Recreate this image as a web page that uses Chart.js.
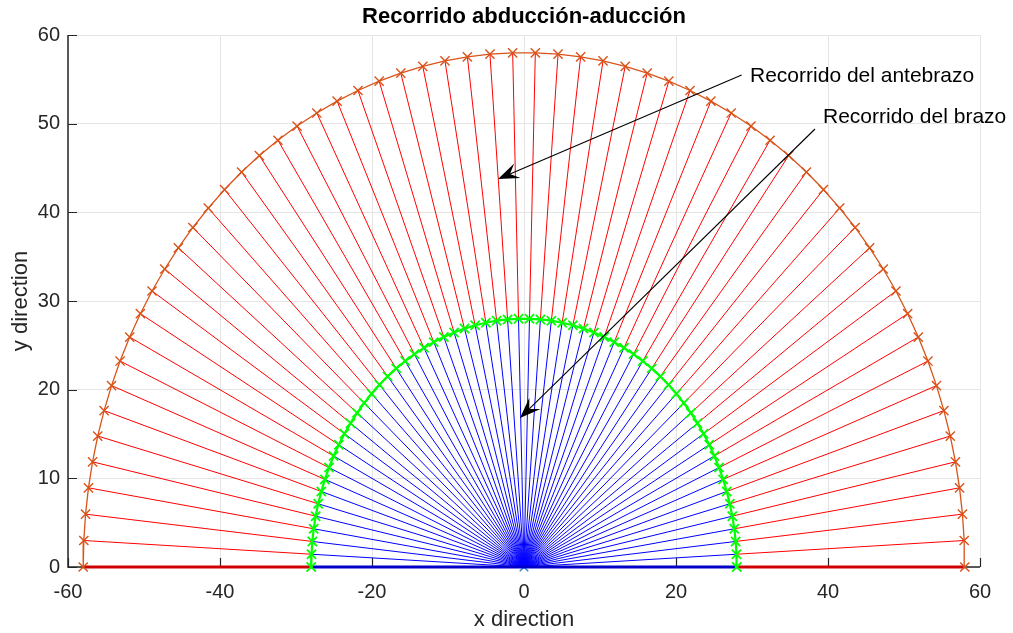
<!DOCTYPE html>
<html>
<head>
<meta charset="utf-8">
<title>Recorrido abducción-aducción</title>
<script src="https://cdn.jsdelivr.net/npm/chart.js@4.4.1/dist/chart.umd.min.js"></script>
<style>
  html, body { margin: 0; padding: 0; background: #ffffff; }
  #wrap { width: 1013px; height: 633px; }
</style>
</head>
<body>
<div id="wrap"><canvas id="c" width="1013" height="633"></canvas></div>
<script>
// Arm end points (elbow), one per abduction step
const armX = [28.00, 27.96, 27.85, 27.67, 27.41, 27.08, 26.67, 26.20, 25.66, 25.05, 24.37, 23.63, 22.82, 21.96, 21.03, 20.05,
  19.02, 17.94, 16.81, 15.63, 14.42, 13.16, 11.87, 10.55, 9.20, 7.83, 6.43, 5.02, 3.60, 2.16, 0.72,
  -0.72, -2.16, -3.60, -5.02, -6.43, -7.83, -9.20, -10.55, -11.87, -13.16, -14.42, -15.63, -16.81, -17.94, -19.02,
  -20.05, -21.03, -21.96, -22.82, -23.63, -24.37, -25.05, -25.66, -26.20, -26.67, -27.08, -27.41, -27.67, -27.85, -27.96, -28.00];
const armY = [0.00, 1.44, 2.88, 4.31, 5.73, 7.13, 8.52, 9.88, 11.21, 12.52, 13.79, 15.03, 16.22, 17.38, 18.49, 19.54,
  20.55, 21.50, 22.40, 23.23, 24.01, 24.72, 25.36, 25.94, 26.45, 26.89, 27.26, 27.55, 27.78, 27.92, 27.99,
  27.99, 27.92, 27.78, 27.55, 27.26, 26.89, 26.45, 25.94, 25.36, 24.72, 24.01, 23.23, 22.40, 21.50, 20.55,
  19.54, 18.49, 17.38, 16.22, 15.03, 13.79, 12.52, 11.21, 9.88, 8.52, 7.13, 5.73, 4.31, 2.88, 1.44, 0.00];

// Forearm end points (hand)
const foreX = [58.00, 57.92, 57.69, 57.31, 56.77, 56.09, 55.25, 54.27, 53.15, 51.88, 50.48, 48.94, 47.27, 45.48, 43.57, 41.54,
  39.40, 37.16, 34.82, 32.38, 29.86, 27.26, 24.59, 21.85, 19.06, 16.21, 13.32, 10.40, 7.45, 4.48, 1.49,
  -1.49, -4.48, -7.45, -10.40, -13.32, -16.21, -19.06, -21.85, -24.59, -27.26, -29.86, -32.38, -34.82, -37.16, -39.40,
  -41.54, -43.57, -45.48, -47.27, -48.94, -50.48, -51.88, -53.15, -54.27, -55.25, -56.09, -56.77, -57.31, -57.69, -57.92, -58.00];
const foreY = [0.00, 2.99, 5.96, 8.93, 11.86, 14.77, 17.64, 20.46, 23.23, 25.93, 28.57, 31.13, 33.61, 36.00, 38.29, 40.48,
  42.57, 44.54, 46.40, 48.13, 49.73, 51.20, 52.54, 53.74, 54.79, 55.70, 56.46, 57.08, 57.54, 57.85, 57.98,
  57.98, 57.85, 57.54, 57.08, 56.46, 55.70, 54.79, 53.74, 52.54, 51.20, 49.73, 48.13, 46.40, 44.54, 42.57,
  40.48, 38.29, 36.00, 33.61, 31.13, 28.57, 25.93, 23.23, 20.46, 17.64, 14.77, 11.86, 8.93, 5.96, 2.99, 0.00];

// Shoulder position
const originX = [0];
const originY = [0];

// Axis ticks
const xTicks = [-60, -40, -20, 0, 20, 40, 60];
const yTicks = [0, 10, 20, 30, 40, 50, 60];

// Text
const chartTitle = 'Recorrido abducción-aducción';
const xLabel = 'x direction';
const yLabel = 'y direction';
const notes = [
  { text: 'Recorrido del antebrazo', tx: 29.74, ty: 55.38, x0: 28.64, y0: 55.49, x1: -3.42, y1: 43.76 },
  { text: 'Recorrido del brazo',     tx: 39.34, ty: 50.75, x0: 38.29, y0: 49.40, x1: -0.53, y1: 16.80 }
];

const FONT = '"Liberation Sans", Arial, Helvetica, sans-serif';
const AXIS_COLOR = '#262626';

// Segment lists: shoulder->elbow and elbow->hand, separated by gaps
const armSegs = [];
const foreSegs = [];
for (let k = 0; k < armX.length; k++) {
  armSegs.push({ x: originX[0], y: originY[0] }, { x: armX[k], y: armY[k] }, { x: armX[k], y: null });
  foreSegs.push({ x: armX[k], y: armY[k] }, { x: foreX[k], y: foreY[k] }, { x: foreX[k], y: null });
}
const last = armX.length - 1;
const baseRed = [
  { x: foreX[last], y: foreY[last] }, { x: armX[last], y: armY[last] }, { x: armX[last], y: null },
  { x: armX[0], y: armY[0] }, { x: foreX[0], y: foreY[0] }
];
const baseBlue = [{ x: armX[last], y: armY[last] }, { x: armX[0], y: armY[0] }];
const foreCurve = foreX.map((v, i) => ({ x: v, y: foreY[i] }));
const armCurve = armX.map((v, i) => ({ x: v, y: armY[i] }));

const frame = {
  id: 'frame',
  beforeDatasetsDraw(chart) {
    const { ctx, chartArea: a, scales } = chart;
    ctx.save();
    ctx.strokeStyle = AXIS_COLOR;
    ctx.lineWidth = 1.5;
    ctx.beginPath();
    ctx.moveTo(a.left, a.top);
    ctx.lineTo(a.left, a.bottom);
    ctx.lineTo(a.right, a.bottom);
    ctx.stroke();
    ctx.lineWidth = 1.2;
    ctx.beginPath();
    const tl = 9;
    xTicks.forEach(v => {
      const px = Math.round(scales.x.getPixelForValue(v)) + 0.5;
      ctx.moveTo(px, a.bottom);
      ctx.lineTo(px, a.bottom - tl);
    });
    yTicks.forEach(v => {
      const py = Math.round(scales.y.getPixelForValue(v)) + 0.5;
      ctx.moveTo(a.left, py);
      ctx.lineTo(a.left + tl, py);
    });
    ctx.stroke();
    ctx.restore();
  },
  afterDraw(chart) {
    const { ctx, chartArea: a, scales } = chart;
    ctx.save();
    // title
    ctx.fillStyle = '#000000';
    ctx.font = 'bold 22px ' + FONT;
    ctx.textAlign = 'center';
    ctx.textBaseline = 'middle';
    ctx.fillText(chartTitle, (a.left + a.right) / 2, 17);
    // axis titles
    ctx.fillStyle = AXIS_COLOR;
    ctx.font = '22px ' + FONT;
    ctx.fillText(xLabel, (a.left + a.right) / 2, 620);
    ctx.save();
    ctx.translate(21, (a.top + a.bottom) / 2);
    ctx.rotate(-Math.PI / 2);
    ctx.fillText(yLabel, 0, 0);
    ctx.restore();
    // text arrows
    notes.forEach(n => {
      const x0 = scales.x.getPixelForValue(n.x0), y0 = scales.y.getPixelForValue(n.y0);
      const x1 = scales.x.getPixelForValue(n.x1), y1 = scales.y.getPixelForValue(n.y1);
      const ang = Math.atan2(y1 - y0, x1 - x0);
      const L = 21, W = 8, notch = 13;
      ctx.strokeStyle = '#000000';
      ctx.lineWidth = 1.1;
      ctx.beginPath();
      ctx.moveTo(x0, y0);
      ctx.lineTo(x1 - Math.cos(ang) * notch, y1 - Math.sin(ang) * notch);
      ctx.stroke();
      ctx.save();
      ctx.translate(x1, y1);
      ctx.rotate(ang);
      ctx.fillStyle = '#000000';
      ctx.beginPath();
      ctx.moveTo(0, 0);
      ctx.lineTo(-L, -W);
      ctx.lineTo(-notch, 0);
      ctx.lineTo(-L, W);
      ctx.closePath();
      ctx.fill();
      ctx.restore();
      ctx.fillStyle = '#000000';
      ctx.font = '21px ' + FONT;
      ctx.textAlign = 'left';
      ctx.textBaseline = 'middle';
      ctx.fillText(n.text, scales.x.getPixelForValue(n.tx), scales.y.getPixelForValue(n.ty));
    });
    ctx.restore();
  }
};

new Chart(document.getElementById('c'), {
  type: 'scatter',
  data: {
    datasets: [
      { label: 'antebrazo', data: foreCurve, showLine: true, borderColor: '#D95319', borderWidth: 1.3,
        pointStyle: 'crossRot', pointRadius: 6.5, pointBorderColor: '#D95319', pointBorderWidth: 1.4,
        order: 0, clip: false },
      { label: 'brazo', data: armCurve, showLine: true, borderColor: '#00FF00', borderWidth: 2.2,
        pointStyle: 'crossRot', pointRadius: 6.5, pointBorderColor: '#00FF00', pointBorderWidth: 1.8,
        order: 1, clip: false },
      { label: 'base antebrazo', data: baseRed, showLine: true, borderColor: '#D00000', borderWidth: 3,
        pointRadius: 0, spanGaps: false, order: 2, clip: false },
      { label: 'base brazo', data: baseBlue, showLine: true, borderColor: '#0000C8', borderWidth: 3,
        pointRadius: 0, order: 2, clip: false },
      { label: 'segmentos antebrazo', data: foreSegs, showLine: true, borderColor: '#FF0000', borderWidth: 1,
        pointRadius: 0, spanGaps: false, order: 3, clip: false },
      { label: 'segmentos brazo', data: armSegs, showLine: true, borderColor: '#0000FF', borderWidth: 1,
        pointRadius: 0, spanGaps: false, order: 4, clip: false },
      { label: 'hombro', data: [{ x: originX[0], y: originY[0] }], showLine: false,
        pointStyle: 'crossRot', pointRadius: 6, pointBorderColor: '#2B8FD8', pointBorderWidth: 1.5,
        order: 5, clip: false }
    ]
  },
  options: {
    responsive: false,
    animation: false,
    devicePixelRatio: 1,
    layout: { padding: { top: 35, right: 33, left: 0, bottom: 0 } },
    plugins: { legend: { display: false }, tooltip: { enabled: false }, title: { display: false } },
    elements: { line: { tension: 0 } },
    scales: {
      x: {
        type: 'linear', min: -60, max: 60,
        afterBuildTicks: s => { s.ticks = xTicks.map(v => ({ value: v })); },
        afterFit: s => { s.height = 66; },
        grid: { color: '#E5E5E5', lineWidth: 1, drawTicks: false },
        border: { display: false },
        ticks: { color: AXIS_COLOR, font: { family: FONT, size: 20 }, padding: 13, maxRotation: 0 }
      },
      y: {
        type: 'linear', min: 0, max: 60,
        afterBuildTicks: s => { s.ticks = yTicks.map(v => ({ value: v })); },
        afterFit: s => { s.width = 68; },
        grid: { color: '#E5E5E5', lineWidth: 1, drawTicks: false },
        border: { display: false },
        ticks: { color: AXIS_COLOR, font: { family: FONT, size: 20 }, padding: 8 }
      }
    }
  },
  plugins: [frame]
});
</script>
</body>
</html>
